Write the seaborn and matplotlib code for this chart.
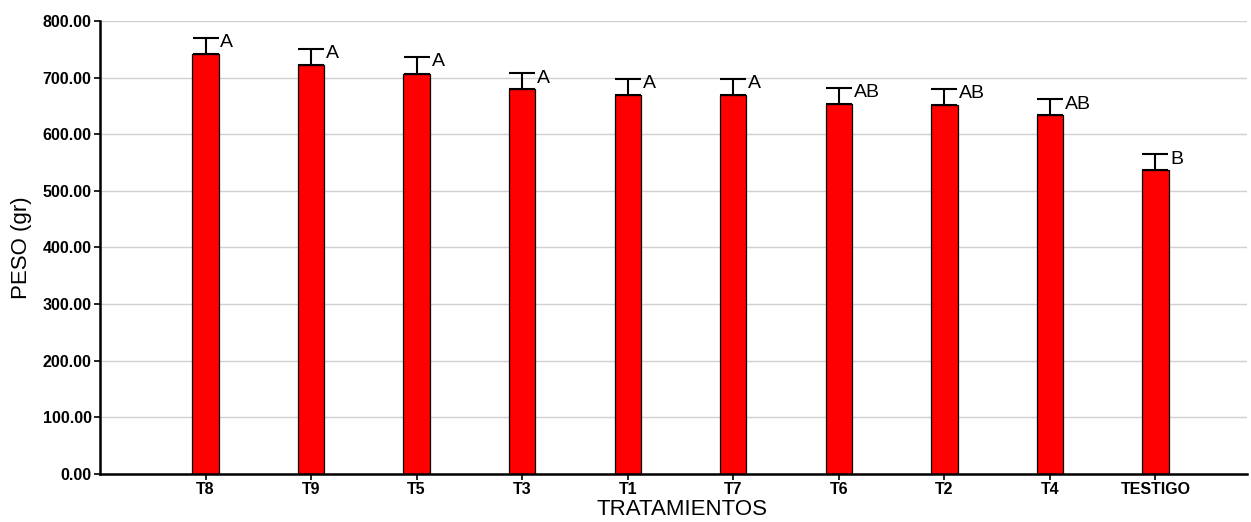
import matplotlib
matplotlib.use("Agg")
import matplotlib.pyplot as plt
import seaborn as sns
import pandas as pd
import numpy as np

tratamientos = ["T8", "T9", "T5", "T3", "T1", "T7", "T6", "T2", "T4", "TESTIGO"]
peso = [742, 722, 707, 680, 670, 670, 654, 652, 633, 537]
error = [28, 29, 30, 28, 28, 28, 28, 28, 29, 28]
letras = ["A", "A", "A", "A", "A", "A", "AB", "AB", "AB", "B"]

df = pd.DataFrame({"TRATAMIENTOS": tratamientos, "PESO": peso})

sns.set_style("white")
plt.rcParams["font.family"] = ["Liberation Sans", "DejaVu Sans"]
plt.rcParams["text.color"] = "black"
plt.rcParams["axes.labelcolor"] = "black"
plt.rcParams["xtick.color"] = "black"
plt.rcParams["ytick.color"] = "black"

fig = plt.figure(figsize=(12.51, 5.22), dpi=100)
ax = fig.add_axes([0.080, 0.092, 0.917, 0.868])

ax.set_axisbelow(True)
ax.grid(True, axis="both", color="#d0d0d0", linewidth=1.0)

sns.barplot(data=df, x="TRATAMIENTOS", y="PESO", order=tratamientos,
            color="#ff0000", saturation=1, width=0.25,
            edgecolor="black", linewidth=0.9, errorbar=None, ax=ax)

x = np.arange(len(tratamientos))
ax.errorbar(x, peso, yerr=[np.zeros(len(error)), error], fmt="none",
            ecolor="black", elinewidth=1.5, capsize=9.4, capthick=1.5)

# significance letters just right of each cap
for xi, v, e, t in zip(x, peso, error, letras):
    ax.text(xi + 0.14, v + e - 9, t, ha="left", va="center", fontsize=14,
            color="black")

ax.set_xlim(-1, 9.87)
ax.set_ylim(0, 800)
ax.set_yticks(np.arange(0, 801, 100))
ax.set_yticklabels([f"{v:.2f}" for v in np.arange(0, 801, 100)],
                   fontweight="bold", fontsize=11.5)
ax.set_xticks(x)
ax.set_xticklabels(tratamientos, fontweight="bold", fontsize=11.5)

ax.set_xlabel("TRATAMIENTOS", fontsize=16, labelpad=3)
ax.set_ylabel("PESO (gr)", fontsize=16, labelpad=8)
ax.xaxis.set_label_coords(0.507, -0.055)

for side in ["top", "right"]:
    ax.spines[side].set_visible(False)
for side in ["left", "bottom"]:
    ax.spines[side].set_color("black")
    ax.spines[side].set_linewidth(1.8)

ax.tick_params(axis="both", which="major", direction="out", length=4,
               width=1.2, color="black", pad=2, bottom=True, left=True)

fig.savefig("out.png", dpi=100)
